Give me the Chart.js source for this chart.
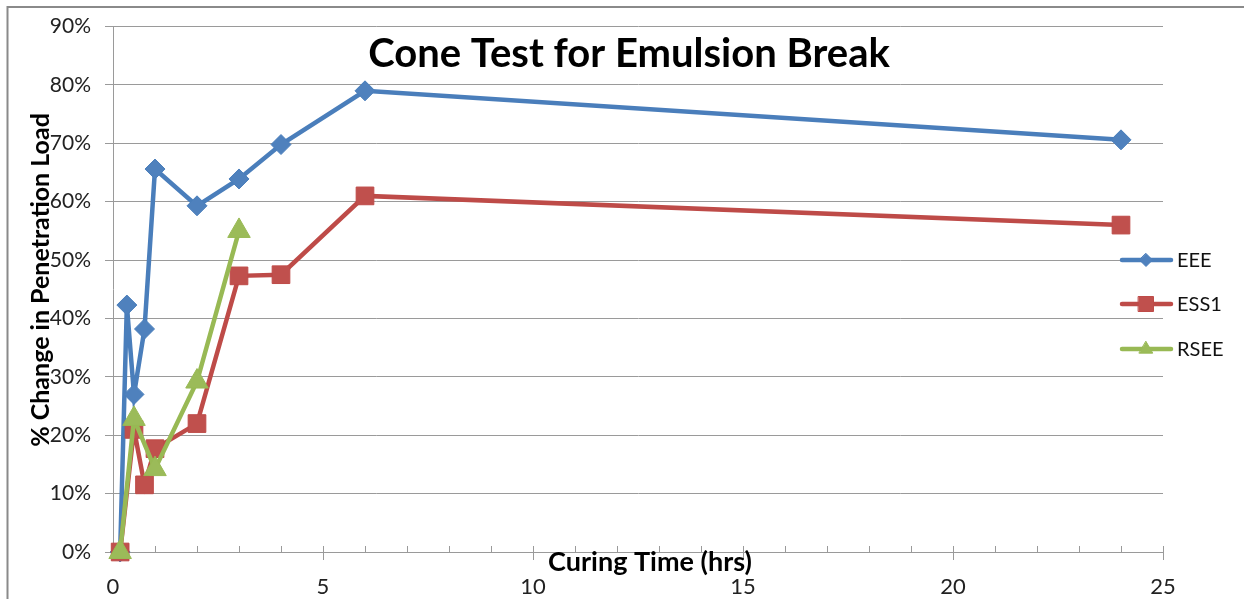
<!DOCTYPE html>
<html>
<head>
<meta charset="utf-8">
<title>Cone Test for Emulsion Break</title>
<script src="https://cdn.jsdelivr.net/npm/chart.js@4.4.1/dist/chart.umd.min.js"></script>
<style>
  html, body { margin: 0; padding: 0; background: #fff; }
  #wrap { width: 1244px; height: 599px; }
</style>
</head>
<body>
<div id="wrap"><canvas id="cone" width="1244" height="599"></canvas></div>
<script>
// curing time (hrs) and % change in penetration load
const eeeHours  = [0.17, 0.33, 0.5, 0.75, 1, 2, 3, 4, 6, 24];
const eeeLoad   = [0, 42.3, 27, 38.2, 65.6, 59.3, 63.9, 69.8, 79, 70.6];
const ess1Hours = [0.17, 0.5, 0.75, 1, 2, 3, 4, 6, 24];
const ess1Load  = [0, 21, 11.5, 17.7, 22, 47.3, 47.5, 61, 56];
const rseeHours = [0.17, 0.5, 1, 2, 3];
const rseeLoad  = [0, 22.8, 14.2, 29.2, 55];

const seriesNames = ["EEE", "ESS1", "RSEE"];
const xTicks = [0, 5, 10, 15, 20, 25];
const yTicks = [0, 10, 20, 30, 40, 50, 60, 70, 80, 90];

const chartTitle = "Cone Test for Emulsion Break";
const xTitle = "Curing Time (hrs)";
const yTitle = "% Change in Penetration Load";

const FONT = "Lato, 'Open Sans', 'DejaVu Sans', sans-serif";
const GRID = "#9a9a9a";

const toPoints = (xs, ys) => xs.map((x, i) => ({ x: x, y: ys[i] }));

// Excel-ish series colours
const lineCols = ["#4a7ebb", "#be4b48", "#98b954"];
const fillCols = ["#4f81bd", "#c0504d", "#9bbb59"];
const shapes = ["rectRot", "rect", "triangle"];

function marker(ctx, shape, x, y, s, fill, stroke) {
  ctx.save();
  ctx.fillStyle = fill;
  ctx.strokeStyle = stroke;
  ctx.lineWidth = 1;
  ctx.beginPath();
  if (shape === "rectRot") {
    ctx.moveTo(x, y - s); ctx.lineTo(x + s, y); ctx.lineTo(x, y + s); ctx.lineTo(x - s, y);
  } else if (shape === "rect") {
    ctx.rect(x - s, y - s, 2 * s, 2 * s);
  } else {
    ctx.moveTo(x, y - s); ctx.lineTo(x + s * 0.9, y + s * 0.55); ctx.lineTo(x - s * 0.9, y + s * 0.55);
  }
  ctx.closePath();
  ctx.fill();
  ctx.stroke();
  ctx.restore();
}

// frame, minor/major x ticks, titles and the in-plot legend
const decorations = {
  id: "decorations",
  afterDraw(chart) {
    const ctx = chart.ctx;
    const xs = chart.scales.x;
    const area = chart.chartArea;
    ctx.save();

    // outer frame (only left and top show in the crop)
    ctx.strokeStyle = "#8a8a8a";
    ctx.lineWidth = 2;
    ctx.beginPath();
    ctx.moveTo(7.5, 599); ctx.lineTo(7.5, 7); ctx.lineTo(1244, 7);
    ctx.stroke();

    // x axis tick marks: minor above, major across
    ctx.strokeStyle = GRID;
    ctx.lineWidth = 1;
    for (let h = 1; h <= 25; h++) {
      const px = Math.round(xs.getPixelForValue(h)) + 0.5;
      ctx.beginPath();
      ctx.moveTo(px, area.bottom - 6);
      ctx.lineTo(px, h % 5 === 0 ? area.bottom + 8 : area.bottom);
      ctx.stroke();
    }

    ctx.fillStyle = "#000";
    ctx.textAlign = "center";
    ctx.textBaseline = "middle";

    ctx.font = "bold 40px " + FONT;
    ctx.fillText(chartTitle, 629, 54);

    ctx.font = "bold 27px " + FONT;
    ctx.fillText(xTitle, 650, 562);

    ctx.font = "bold 25px " + FONT;
    ctx.save();
    ctx.translate(41, 280);
    ctx.rotate(-Math.PI / 2);
    ctx.fillText(yTitle, 0, 0);
    ctx.restore();

    // legend
    const rows = [260, 304, 349];
    ctx.font = "20px " + FONT;
    ctx.textAlign = "left";
    seriesNames.forEach((name, i) => {
      const y = rows[i];
      ctx.strokeStyle = lineCols[i];
      ctx.lineWidth = 4.5;
      ctx.lineCap = "round";
      ctx.beginPath();
      ctx.moveTo(1122, y); ctx.lineTo(1171, y);
      ctx.stroke();
      marker(ctx, shapes[i], 1146, y, i === 0 ? 6.5 : 7.5, fillCols[i], lineCols[i]);
      ctx.fillStyle = "#111";
      ctx.fillText(name, 1177, y + 1);
    });

    ctx.restore();
  }
};

const series = [
  { label: seriesNames[0], data: toPoints(eeeHours, eeeLoad), radius: 10, order: 3 },
  { label: seriesNames[1], data: toPoints(ess1Hours, ess1Load), radius: 12.5, order: 2 },
  { label: seriesNames[2], data: toPoints(rseeHours, rseeLoad), radius: 13, order: 1 },
];

new Chart(document.getElementById("cone"), {
  type: "line",
  data: {
    datasets: series.map((s, i) => ({
      label: s.label,
      data: s.data,
      order: s.order,
      clip: false,
      borderColor: lineCols[i],
      backgroundColor: fillCols[i],
      borderWidth: 4.5,
      pointStyle: shapes[i],
      pointRadius: s.radius,
      pointBorderWidth: 1,
      pointBorderColor: lineCols[i],
      pointBackgroundColor: fillCols[i],
      tension: 0,
    })),
  },
  options: {
    responsive: false,
    animation: false,
    events: [],
    layout: { padding: { top: 22, right: 81, left: 0, bottom: 0 } },
    plugins: {
      legend: { display: false },
      title: { display: false },
      tooltip: { enabled: false },
    },
    scales: {
      x: {
        type: "linear",
        min: 0,
        max: 25,
        afterBuildTicks: (scale) => { scale.ticks = xTicks.map((v) => ({ value: v })); },
        afterFit: (scale) => { scale.height = 47; },
        grid: { display: false, drawTicks: false },
        border: { display: true, color: GRID, width: 1 },
        ticks: {
          padding: 22,
          color: "#222",
          font: { family: FONT, size: 22 },
        },
      },
      y: {
        min: 0,
        max: 90,
        afterBuildTicks: (scale) => { scale.ticks = yTicks.map((v) => ({ value: v })); },
        afterFit: (scale) => { scale.width = 113; },
        grid: { color: GRID, lineWidth: 1, drawTicks: true, tickLength: 8 },
        border: { display: true, color: GRID, width: 1 },
        ticks: {
          padding: 14,
          color: "#222",
          font: { family: FONT, size: 21 },
          callback: (v) => v + "%",
        },
      },
    },
  },
  plugins: [decorations],
});
</script>
</body>
</html>
